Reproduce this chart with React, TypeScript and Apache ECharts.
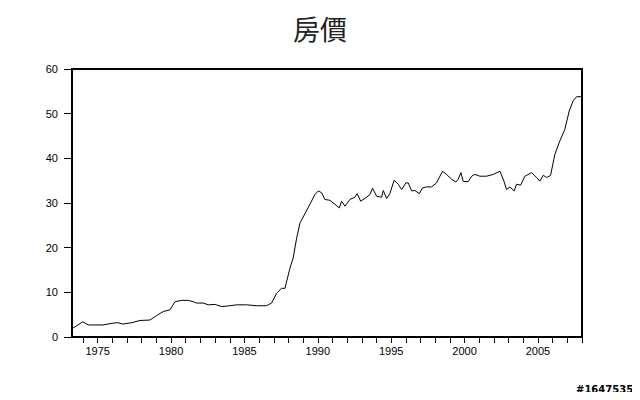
import React, { useEffect, useRef } from "react";
import * as echarts from "echarts";

const titleText = "房價";
const watermark = "#1647535";

// [year, price]
const years: number[] = [
  1973.25, 1973.32, 1973.98, 1974.36, 1975.36, 1976.04, 1976.38, 1976.72, 1977.32, 1977.88,
  1978.56, 1979.02, 1979.47, 1979.93, 1980.27, 1980.72, 1981.17, 1981.51, 1981.74, 1982.19,
  1982.53, 1982.99, 1983.45, 1984.01, 1984.47, 1985.15, 1985.83, 1986.51, 1986.85, 1987.19,
  1987.53, 1987.76, 1988.1, 1988.32, 1988.56, 1988.78, 1989.12, 1989.46, 1989.8, 1990.03,
  1990.26, 1990.48, 1990.82, 1991.17, 1991.46, 1991.62, 1991.85, 1992.19, 1992.53, 1992.68,
  1992.92, 1993.32, 1993.55, 1993.73, 1994.01, 1994.35, 1994.46, 1994.69, 1994.91, 1995.2,
  1995.48, 1995.71, 1996.0, 1996.16, 1996.39, 1996.61, 1996.91, 1997.14, 1997.41, 1997.75,
  1998.09, 1998.32, 1998.5, 1998.77, 1999.12, 1999.41, 1999.56, 1999.75, 1999.91, 2000.25,
  2000.48, 2000.7, 2001.04, 2001.5, 2001.95, 2002.41, 2002.68, 2002.86, 2003.09, 2003.38,
  2003.54, 2003.82, 2004.11, 2004.57, 2004.91, 2005.13, 2005.36, 2005.59, 2005.86, 2006.15,
  2006.49, 2006.83, 2007.13, 2007.4, 2007.63, 2008.0,
];
const prices: number[] = [
  1.9, 2.0, 3.4, 2.7, 2.7, 3.1, 3.2, 2.9, 3.2, 3.7,
  3.8, 4.8, 5.7, 6.1, 7.9, 8.2, 8.2, 7.9, 7.6, 7.6,
  7.2, 7.3, 6.8, 7.0, 7.2, 7.2, 7.0, 7.0, 7.6, 9.8,
  10.9, 10.9, 15.4, 17.7, 22.2, 25.5, 27.6, 29.7, 31.9, 32.7,
  32.3, 30.8, 30.6, 29.7, 28.9, 30.4, 29.3, 30.8, 31.3, 32.1,
  30.4, 31.3, 31.9, 33.3, 31.5, 31.3, 32.8, 31.0, 32.1, 35.1,
  34.2, 33.0, 34.5, 34.5, 32.7, 32.8, 32.1, 33.4, 33.6, 33.6,
  34.5, 36.0, 37.1, 36.4, 35.3, 34.7, 35.3, 36.8, 34.8, 34.8,
  36.0, 36.4, 36.0, 36.0, 36.4, 37.1, 34.9, 33.0, 33.6, 32.7,
  34.2, 34.0, 36.0, 36.8, 35.7, 34.9, 36.2, 35.7, 36.2, 40.9,
  43.9, 46.5, 50.6, 52.9, 53.8, 53.8,
];

const xTickYears: number[] = [
  1974, 1975, 1976, 1977, 1978, 1979, 1980, 1981, 1982, 1983, 1984, 1985, 1986, 1987,
  1988, 1989, 1990, 1991, 1992, 1993, 1994, 1995, 1996, 1997, 1998, 1999, 2000, 2001,
  2002, 2003, 2004, 2005, 2006, 2007, 2008,
];
const xLabelYears: number[] = [1975, 1980, 1985, 1990, 1995, 2000, 2005];

export default function App() {
  const ref = useRef<HTMLDivElement>(null);
  useEffect(() => {
    if (!ref.current) return;
    const chart = echarts.init(ref.current, undefined, { renderer: "svg" });
    const data = years.map((y, i) => [y, prices[i]]);
    chart.setOption({
      animation: false,
      backgroundColor: "#fff",
      title: {
        text: titleText,
        left: "center",
        top: 10,
        textStyle: {
          fontFamily: "Noto Sans CJK TC",
          fontSize: 27,
          fontWeight: "normal",
          color: "#222",
        },
      },
      grid: {
        left: 72,
        right: 58,
        top: 69,
        bottom: 63,
        show: true,
        borderColor: "#000",
        borderWidth: 2,
      },
      xAxis: {
        type: "value",
        min: 1973.25,
        max: 2008,
        axisLine: { show: true, lineStyle: { color: "#000", width: 2 } },
        axisTick: {
          show: true,
          customValues: xTickYears,
          length: 6,
          lineStyle: { color: "#000", width: 1 },
        },
        axisLabel: {
          customValues: xLabelYears,
          formatter: (v: number) => String(Math.round(v)),
          color: "#000",
          fontSize: 11,
          fontFamily: "Liberation Sans",
          margin: 8,
        },
        splitLine: { show: false },
      },
      yAxis: {
        type: "value",
        min: 0,
        max: 60,
        interval: 10,
        axisLine: { show: true, lineStyle: { color: "#000", width: 2 } },
        axisTick: { show: true, length: 8, lineStyle: { color: "#000", width: 1 } },
        axisLabel: {
          color: "#000",
          fontSize: 11,
          fontFamily: "Liberation Sans",
          margin: 14,
        },
        splitLine: { show: false },
      },
      series: [
        {
          type: "line",
          data,
          showSymbol: false,
          symbol: "none",
          lineStyle: { color: "#000", width: 1 },
        },
      ],
      graphic: [
        {
          type: "text",
          left: 576,
          top: 384,
          style: {
            text: watermark,
            fill: "#000",
            font: "bold 10px 'DejaVu Sans'",
          },
        },
      ],
    });
    return () => chart.dispose();
  }, []);
  return <div ref={ref} style={{ width: 640, height: 400, margin: -8 }} />;
}
